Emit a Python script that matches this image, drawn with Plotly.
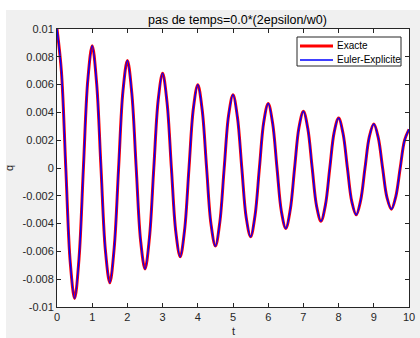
import plotly.graph_objects as go

# sample times (s)
t_values = [0.0, 0.125, 0.25, 0.375, 0.5, 0.625, 0.75, 0.875,
            1.0, 1.125, 1.25, 1.375, 1.5, 1.625, 1.75, 1.875,
            2.0, 2.125, 2.25, 2.375, 2.5, 2.625, 2.75, 2.875,
            3.0, 3.125, 3.25, 3.375, 3.5, 3.625, 3.75, 3.875,
            4.0, 4.125, 4.25, 4.375, 4.5, 4.625, 4.75, 4.875,
            5.0, 5.125, 5.25, 5.375, 5.5, 5.625, 5.75, 5.875,
            6.0, 6.125, 6.25, 6.375, 6.5, 6.625, 6.75, 6.875,
            7.0, 7.125, 7.25, 7.375, 7.5, 7.625, 7.75, 7.875,
            8.0, 8.125, 8.25, 8.375, 8.5, 8.625, 8.75, 8.875,
            9.0, 9.125, 9.25, 9.375, 9.5, 9.625, 9.75, 9.875,
            10.0]

# q values
q_exacte = [0.01000, 0.00696, 0.0, -0.00674, -0.00938, -0.00653, 0.0, 0.00632,
            0.00880, 0.00612, 0.0, -0.00593, -0.00825, -0.00574, 0.0, 0.00556,
            0.00774, 0.00539, 0.0, -0.00522, -0.00726, -0.00505, 0.0, 0.00489,
            0.00681, 0.00474, 0.0, -0.00459, -0.00639, -0.00445, 0.0, 0.00430,
            0.00599, 0.00417, 0.0, -0.00404, -0.00562, -0.00391, 0.0, 0.00379,
            0.00527, 0.00367, 0.0, -0.00356, -0.00495, -0.00344, 0.0, 0.00333,
            0.00464, 0.00323, 0.0, -0.00313, -0.00435, -0.00303, 0.0, 0.00293,
            0.00408, 0.00284, 0.0, -0.00275, -0.00383, -0.00267, 0.0, 0.00258,
            0.00359, 0.00250, 0.0, -0.00242, -0.00337, -0.00235, 0.0, 0.00227,
            0.00316, 0.00220, 0.0, -0.00213, -0.00296, -0.00206, 0.0, 0.00200,
            0.00278]

q_euler = [0.01000, 0.00696, 0.0, -0.00674, -0.00938, -0.00653, 0.0, 0.00632,
           0.00880, 0.00612, 0.0, -0.00593, -0.00825, -0.00574, 0.0, 0.00556,
           0.00774, 0.00539, 0.0, -0.00522, -0.00726, -0.00505, 0.0, 0.00489,
           0.00681, 0.00474, 0.0, -0.00459, -0.00639, -0.00445, 0.0, 0.00430,
           0.00599, 0.00417, 0.0, -0.00404, -0.00562, -0.00391, 0.0, 0.00379,
           0.00527, 0.00367, 0.0, -0.00356, -0.00495, -0.00344, 0.0, 0.00333,
           0.00464, 0.00323, 0.0, -0.00313, -0.00435, -0.00303, 0.0, 0.00293,
           0.00408, 0.00284, 0.0, -0.00275, -0.00383, -0.00267, 0.0, 0.00258,
           0.00359, 0.00250, 0.0, -0.00242, -0.00337, -0.00235, 0.0, 0.00227,
           0.00316, 0.00220, 0.0, -0.00213, -0.00296, -0.00206, 0.0, 0.00200,
           0.00278]

series_names = ["Exacte", "Euler-Explicite"]
series_colors = ["#ff0000", "#0000ff"]
series_widths = [3, 1.5]

x_ticks = [0, 1, 2, 3, 4, 5, 6, 7, 8, 9, 10]
x_tick_labels = ["0", "1", "2", "3", "4", "5", "6", "7", "8", "9", "10"]
y_ticks = [-0.01, -0.008, -0.006, -0.004, -0.002, 0, 0.002, 0.004, 0.006, 0.008, 0.01]
y_tick_labels = ["-0.01", "-0.008", "-0.006", "-0.004", "-0.002", "0",
                 "0.002", "0.004", "0.006", "0.008", "0.01"]

W, H = 420, 338
ML, MR, MT, MB = 57, 11, 29, 31
PW, PH = W - ML - MR, H - MT - MB

def px_x(p):
    return (p - ML) / PW

def px_y(p):
    return (H - MB - p) / PH

FONT = "Liberation Sans, Arial, Helvetica, sans-serif"
AX = "#262626"

fig = go.Figure()
for q, name, col, wd in zip([q_exacte, q_euler], series_names, series_colors, series_widths):
    fig.add_trace(go.Scatter(x=t_values, y=q, mode="lines", name=name,
                             line=dict(color=col, width=wd, shape="spline"),
                             showlegend=False))

axis_common = dict(showline=True, linecolor=AX, linewidth=1, mirror="ticks",
                   ticks="inside", ticklen=4, tickcolor=AX, tickwidth=1,
                   showgrid=False, zeroline=False, automargin=False,
                   tickfont=dict(family=FONT, size=11, color=AX))

fig.update_xaxes(range=[0, 10], tickvals=x_ticks, ticktext=x_tick_labels, **axis_common)
fig.update_yaxes(range=[-0.01, 0.01], tickvals=y_ticks, ticktext=y_tick_labels,
                 title=dict(text="q", font=dict(family=FONT, size=11, color=AX), standoff=6),
                 **axis_common)

# legend box (drawn manually to match compact MATLAB legend)
LX0, LX1, LY0, LY1 = 297, 401, 37, 66
row_y = [46, 60]
shapes = [
    dict(type="rect", xref="paper", yref="paper", layer="below",
         x0=px_x(6), x1=px_x(420), y0=px_y(338), y1=px_y(10),
         fillcolor="#f0f0f0", line=dict(width=0)),
    dict(type="rect", xref="paper", yref="paper", layer="below",
         x0=0, x1=1, y0=0, y1=1,
         fillcolor="white", line=dict(width=0)),
    dict(type="rect", xref="paper", yref="paper", layer="above",
         x0=px_x(LX0), x1=px_x(LX1), y0=px_y(LY1), y1=px_y(LY0),
         fillcolor="white", line=dict(color=AX, width=1)),
]
annotations = [
    dict(text="t", xref="paper", yref="paper", showarrow=False,
         x=px_x(233), y=px_y(331), xanchor="center", yanchor="middle",
         font=dict(family=FONT, size=11, color=AX)),
]
for ry, name, col, wd in zip(row_y, series_names, series_colors, series_widths):
    shapes.append(dict(type="line", xref="paper", yref="paper", layer="above",
                       x0=px_x(300), x1=px_x(333), y0=px_y(ry), y1=px_y(ry),
                       line=dict(color=col, width=wd)))
    annotations.append(dict(text=name, xref="paper", yref="paper", showarrow=False,
                            x=px_x(335), y=px_y(ry), xanchor="left", yanchor="middle",
                            font=dict(family=FONT, size=10, color="#000000")))

fig.update_layout(
    width=W, height=H,
    margin=dict(l=ML, r=MR, t=MT, b=MB, pad=0),
    paper_bgcolor="white",
    plot_bgcolor="rgba(0,0,0,0)",
    title=dict(text="pas de temps=0.0*(2epsilon/w0)", x=px_x(237.5), xref="paper",
               xanchor="center", y=1 - 20 / H, yanchor="middle",
               font=dict(family=FONT, size=12.5, color="#000000")),
    shapes=shapes,
    annotations=annotations,
    showlegend=False,
)

fig.write_html("out.html")
